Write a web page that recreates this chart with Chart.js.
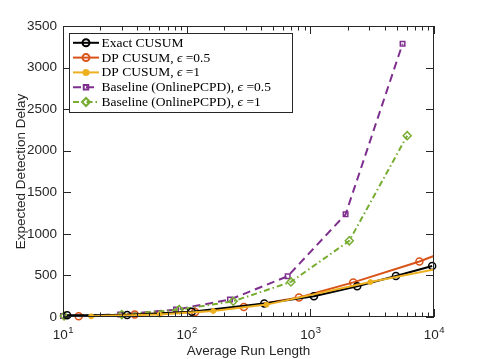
<!DOCTYPE html>
<html>
<head>
<meta charset="utf-8">
<script src="https://cdn.jsdelivr.net/npm/chart.js@4.4.1/dist/chart.umd.min.js"></script>
<style>
  html, body { margin: 0; padding: 0; background: #fff; }
  #wrap { width: 478px; height: 359px; }
</style>
</head>
<body>
<div id="wrap"><canvas id="eddChart" width="478" height="359"></canvas></div>
<script>
// values (x = average run length, y = expected detection delay)
const exactArl = [10.8, 33, 110, 424, 1069, 2393, 4920, 9660];
const exactEdd = [20, 25, 62, 161, 249, 370, 494, 614];

// last points sit just past 10^4, only the line reaches the edge
const dpHalfArl = [13.4, 38, 117, 290, 809, 2224, 7620, 11000];
const dpHalfEdd = [8, 29, 60, 120, 234, 416, 667, 760];

const dpOneArl = [16.9, 60.5, 164, 443, 3060, 11000];
const dpOneEdd = [8, 29, 72, 149, 420, 583];

const baseHalfArl = [10, 29, 82, 224, 656, 1928, 5570];
const baseHalfEdd = [12, 29, 89, 210, 490, 1235, 3286];

const baseOneArl = [10.2, 29.9, 87, 238, 697, 2065, 6070];
const baseOneEdd = [12, 29, 89, 189, 422, 916, 2181];

const xDecades = [10, 100, 1000, 10000];
const xExponents = ['1', '2', '3', '4'];
const yTicks = [0, 500, 1000, 1500, 2000, 2500, 3000, 3500];

const axisColor = '#262626';
const edgeClip = { left: 10, top: 10, right: 0, bottom: 10 };

function pts(xs, ys) {
    return xs.map(function (x, i) { return { x: x, y: ys[i] }; });
}

// box, inside tick marks and 10^k labels, MATLAB style
const framePlugin = {
    id: 'frame',
    afterDatasetsDraw: function (chart) {
        const ctx = chart.ctx;
        const a = chart.chartArea;
        const xs = chart.scales.x;
        const ys = chart.scales.y;
        ctx.save();
        ctx.strokeStyle = axisColor;
        ctx.lineWidth = 1;
        ctx.strokeRect(a.left + 0.5, a.top + 0.5, a.right - a.left - 1, a.bottom - a.top - 1);
        ctx.beginPath();
        for (let d = 10; d < 10000; d *= 10) {
            for (let k = 1; k <= 10; k++) {
                const v = d * k;
                const px = Math.round(xs.getPixelForValue(v)) + 0.5;
                const len = (k === 1 || k === 10) ? 8 : 4.5;
                ctx.moveTo(px, a.bottom);
                ctx.lineTo(px, a.bottom - len);
                ctx.moveTo(px, a.top);
                ctx.lineTo(px, a.top + len);
            }
        }
        yTicks.forEach(function (v) {
            const py = Math.round(ys.getPixelForValue(v)) + 0.5;
            ctx.moveTo(a.left, py);
            ctx.lineTo(a.left + 8, py);
            ctx.moveTo(a.right, py);
            ctx.lineTo(a.right - 8, py);
        });
        ctx.stroke();

        // x tick labels with superscript exponents
        ctx.fillStyle = axisColor;
        ctx.textBaseline = 'alphabetic';
        ctx.textAlign = 'left';
        xDecades.forEach(function (v, i) {
            const px = xs.getPixelForValue(v);
            ctx.font = '13.5px "Liberation Sans", Arial, sans-serif';
            const wBase = ctx.measureText('10').width;
            ctx.font = '9.5px "Liberation Sans", Arial, sans-serif';
            const wSup = ctx.measureText(xExponents[i]).width;
            const x0 = px - (wBase + wSup) / 2;
            ctx.font = '13.5px "Liberation Sans", Arial, sans-serif';
            ctx.fillText('10', x0, 339);
            ctx.font = '9.5px "Liberation Sans", Arial, sans-serif';
            ctx.fillText(xExponents[i], x0 + wBase + 0.5, 332.5);
        });
        ctx.restore();
    }
};

// legend box drawn like the MATLAB one: line sample + marker + serif text
const legendPlugin = {
    id: 'matlabLegend',
    afterDraw: function (chart) {
        const ctx = chart.ctx;
        const box = { x: 69.5, y: 33.5, w: 223, h: 79 };
        ctx.save();
        ctx.fillStyle = '#ffffff';
        ctx.fillRect(box.x, box.y, box.w, box.h);
        ctx.strokeStyle = axisColor;
        ctx.lineWidth = 1;
        ctx.strokeRect(box.x, box.y, box.w, box.h);

        chart.data.datasets.forEach(function (ds, i) {
            const cy = 42.8 + i * 14.8;
            ctx.save();
            ctx.strokeStyle = ds.borderColor;
            ctx.lineWidth = ds.borderWidth;
            ctx.setLineDash(ds.borderDash || []);
            ctx.beginPath();
            ctx.moveTo(73, cy);
            ctx.lineTo(99, cy);
            ctx.stroke();
            ctx.setLineDash([]);
            ctx.strokeStyle = ds.pointBorderColor;
            ctx.fillStyle = ds.pointBackgroundColor;
            Chart.helpers.drawPoint(ctx, {
                pointStyle: ds.pointStyle,
                radius: ds.pointRadius,
                rotation: 0,
                borderWidth: ds.pointBorderWidth
            }, 86, cy);
            ctx.restore();

            // text, with the epsilon in italic
            const parts = ds.label.split('ϵ');
            let x = 101.5;
            ctx.fillStyle = '#000000';
            ctx.textBaseline = 'middle';
            ctx.textAlign = 'left';
            parts.forEach(function (p, j) {
                if (j > 0) {
                    ctx.font = 'italic 13.5px "Liberation Serif", "Times New Roman", serif';
                    ctx.fillText('ϵ', x, cy + 0.5);
                    x += ctx.measureText('ϵ').width;
                }
                ctx.font = '13.5px "Liberation Serif", "Times New Roman", serif';
                ctx.fillText(p, x, cy + 0.5);
                x += ctx.measureText(p).width;
            });
        });
        ctx.restore();
    }
};

const ctx = document.getElementById('eddChart').getContext('2d');

new Chart(ctx, {
    type: 'line',
    data: {
        datasets: [{
            label: 'Exact CUSUM',
            data: pts(exactArl, exactEdd),
            borderColor: '#000000',
            borderWidth: 2,
            pointStyle: 'circle',
            pointRadius: 3.5,
            pointBorderWidth: 1.5,
            pointBorderColor: '#000000',
            pointBackgroundColor: 'rgba(0,0,0,0)',
            order: 1
        }, {
            label: 'DP CUSUM, ϵ =0.5',
            data: pts(dpHalfArl, dpHalfEdd),
            borderColor: '#D95319',
            borderWidth: 2,
            pointStyle: 'circle',
            pointRadius: 3.5,
            pointBorderWidth: 1.5,
            pointBorderColor: '#D95319',
            pointBackgroundColor: 'rgba(0,0,0,0)',
            clip: edgeClip,
            order: 2
        }, {
            label: 'DP CUSUM, ϵ =1',
            data: pts(dpOneArl, dpOneEdd),
            borderColor: '#EDB120',
            borderWidth: 2,
            pointStyle: 'circle',
            pointRadius: 2.5,
            pointBorderWidth: 1,
            pointBorderColor: '#EDB120',
            pointBackgroundColor: '#EDB120',
            clip: edgeClip,
            order: 0
        }, {
            label: 'Baseline (OnlinePCPD), ϵ =0.5',
            data: pts(baseHalfArl, baseHalfEdd),
            borderColor: '#7E2F8E',
            borderWidth: 2,
            borderDash: [8, 5],
            pointStyle: 'rect',
            pointRadius: 3.2,
            pointBorderWidth: 1.5,
            pointBorderColor: '#7E2F8E',
            pointBackgroundColor: 'rgba(0,0,0,0)',
            order: 4
        }, {
            label: 'Baseline (OnlinePCPD), ϵ =1',
            data: pts(baseOneArl, baseOneEdd),
            borderColor: '#77AC30',
            borderWidth: 2,
            borderDash: [6, 3, 1.5, 3],
            pointStyle: 'rectRot',
            pointRadius: 4,
            pointBorderWidth: 1.5,
            pointBorderColor: '#77AC30',
            pointBackgroundColor: 'rgba(0,0,0,0)',
            order: 3
        }]
    },
    options: {
        responsive: false,
        animation: false,
        clip: false,
        layout: { padding: { top: 26, right: 44, left: 0, bottom: 0 } },
        elements: { line: { tension: 0 } },
        plugins: {
            legend: { display: false },
            tooltip: { enabled: false }
        },
        scales: {
            x: {
                type: 'logarithmic',
                min: 10,
                max: 10000,
                grid: { display: false, drawTicks: false, tickLength: 0 },
                border: { display: false },
                ticks: { display: false },
                afterFit: function (s) { s.height = 42; },
                title: {
                    display: true,
                    text: 'Average Run Length',
                    color: axisColor,
                    font: { family: '"Liberation Sans", Arial, sans-serif', size: 13.5 },
                    padding: { top: 0, bottom: 0 }
                }
            },
            y: {
                type: 'linear',
                min: 0,
                max: 3500,
                grid: { display: false, drawTicks: false, tickLength: 0 },
                border: { display: false },
                ticks: {
                    stepSize: 500,
                    padding: 6,
                    color: axisColor,
                    font: { family: '"Liberation Sans", Arial, sans-serif', size: 13.5 },
                    callback: function (v) { return String(v); }
                },
                afterFit: function (s) { s.width = 63; },
                title: {
                    display: true,
                    text: 'Expected Detection Delay',
                    color: axisColor,
                    font: { family: '"Liberation Sans", Arial, sans-serif', size: 13.5 },
                    padding: { top: 13, bottom: 0 }
                }
            }
        }
    },
    plugins: [framePlugin, legendPlugin]
});
</script>
</body>
</html>
